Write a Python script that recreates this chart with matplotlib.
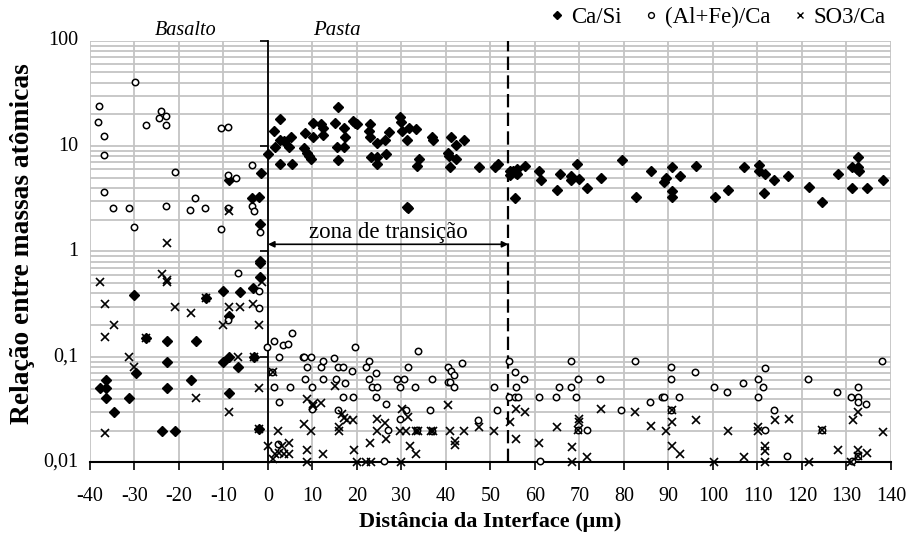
import matplotlib
matplotlib.use("Agg")
import matplotlib.pyplot as plt
from matplotlib.lines import Line2D
from matplotlib.ticker import LogLocator, NullFormatter

# ---------------- data ----------------
ca_si_x = [-1.8, -1.8, -1.8, -3.4, -6.4, -10.2, -14.0, -30.0, -27.4, -22.7, -16.2, -8.7, -22.7, -10.2,
           -8.7, -6.8, -29.6, -36.5, -37.8, -36.5, -36.5, -31.2, -34.7, -22.7, -17.3, -8.7, -23.8, -20.8,
           -3.1, -2.0, -8.7, -1.6, -3.5, -2.0, -1.8,
           0.07, 1.57, 1.35, 2.8, 2.8, 3.6, 4.8, 5.1, 2.8, 5.5, 8.0, 8.4, 8.7, 9.3, 9.6, 10.2, 10.2, 12.0,
           12.4, 12.4, 15.1, 15.8, 17.0, 17.4, 15.5, 17.0, 15.8, 19.1, 19.9, 19.5, 22.9, 22.6, 22.9, 24.4,
           27.1, 26.2, 23.1, 24.4, 24.4, 26.6, 29.6, 29.8, 30.2, 31.7, 33.2, 31.3, 31.3, 31.5, 34.0, 33.5,
           36.8, 37.1, 40.4, 40.7, 41.2, 42.2, 44.1, 42.2, 40.8, 47.5, 51.0, 51.7, 54.3, 54.3, 55.0, 55.8,
           55.9, 55.9, 57.8, 55.6, 61.0, 61.4, 64.9, 65.6, 68.1, 68.1, 69.5, 70.0, 71.8, 74.9, 79.5, 82.6,
           86.1, 89.1, 89.4, 90.7, 90.7, 90.7, 92.6, 96.1, 100.4, 103.4, 106.9, 110.3, 110.3, 111.7, 111.4,
           113.8, 116.9, 121.5, 124.5, 128.1, 131.2, 132.6, 132.6, 132.9, 132.3, 131.2, 134.6, 138.2]
ca_si_y = [0.81, 0.77, 0.57, 0.45, 0.41, 0.42, 0.36, 0.39, 0.15, 0.14, 0.14, 0.245, 0.089, 0.089,
           0.1, 0.080, 0.071, 0.061, 0.051, 0.051, 0.041, 0.041, 0.030, 0.051, 0.061, 0.045, 0.020, 0.020,
           0.1, 0.0206, 4.8, 5.6, 3.2, 3.3, 1.84,
           8.5, 9.9, 13.9, 18.0, 11.5, 11.1, 9.9, 12.3, 6.7, 6.7, 9.5, 13.3, 8.6, 8.1, 7.5, 16.7, 12.3, 16.1,
           14.7, 12.8, 16.7, 23.4, 14.9, 12.3, 9.8, 9.9, 7.3, 17.3, 16.1, 16.6, 16.1, 13.9, 12.3, 10.6,
           13.5, 11.5, 7.9, 7.9, 6.7, 8.5, 18.7, 17.1, 13.9, 15.0, 14.5, 11.5, 2.65, 2.6, 7.6, 6.5,
           12.3, 11.4, 8.6, 8.1, 12.3, 10.2, 11.5, 7.6, 6.3, 6.3, 6.3, 6.7, 5.3, 5.8, 5.8, 5.6,
           6.0, 5.4, 6.5, 3.2, 5.8, 4.8, 3.84, 5.4, 5.2, 4.8, 6.8, 4.85, 4.0, 5.0, 7.3, 3.3,
           5.8, 4.6, 5.0, 6.3, 3.76, 3.3, 5.2, 6.5, 3.3, 3.84, 6.3, 6.6, 5.8, 5.4, 3.55,
           4.8, 5.2, 4.1, 2.96, 5.4, 6.3, 7.9, 6.3, 5.8, 6.0, 4.0, 4.0, 4.8]

alfe_ca_x = [-37.9, -38.3, -36.8, -36.8, -36.8, -34.8, -31.3, -29.8, -30.2, -27.4, -24.1, -24.4, -22.9,
             -22.9, -22.9, -21.0, -17.5, -16.4, -14.1, -10.5, -9.0, -9.0, -7.1, -9.0, -10.5, -3.6, -3.6,
             -3.2, -1.8, -6.7, -2.0, -2.0, -8.9,
             -0.15, 1.4, 2.5, 3.3, 4.5, 5.3, 1.0, 1.4, 2.5, 4.9, 2.3, 7.9, 8.1, 9.6, 8.8, 8.4, 9.9, 9.9,
             11.8, 12.3, 12.3, 14.9, 15.7, 16.9, 15.2, 17.2, 15.8, 16.8, 19.2, 18.8, 19.5, 22.1, 22.6,
             22.6, 23.3, 24.5, 24.2, 24.2, 26.5, 26.9, 26.1, 29.1, 30.6, 29.6, 29.6, 31.1, 31.5, 33.0,
             33.8, 33.5, 36.8, 36.5, 36.8, 40.4, 41.1, 41.9, 40.5, 41.0, 41.9, 43.7, 47.3, 50.7, 51.5,
             54.2, 54.2, 55.4, 56.1, 55.4, 55.8, 57.6, 60.8, 64.7, 65.5, 68.1, 68.1, 69.7, 69.3, 69.7,
             71.7, 61.1, 74.7, 79.3, 82.4, 85.9, 88.6, 89.1, 90.5, 90.5, 92.4, 90.5, 95.9, 100.2, 103.2,
             106.8, 110.2, 111.7, 111.3, 110.2, 113.7, 111.8, 116.7, 121.4, 124.4, 127.9, 132.5, 131.1,
             132.7, 132.6, 134.4, 137.9, 132.6, 131.2]
alfe_ca_y = [23.8, 17.1, 12.6, 8.3, 3.65, 2.6, 2.6, 40.4, 1.69, 15.8, 21.4, 18.3, 19.1,
             15.8, 2.69, 5.7, 2.5, 3.25, 2.6, 14.7, 15.2, 5.3, 4.93, 2.6, 1.63, 6.6, 2.7,
             2.4, 1.53, 0.62, 0.42, 0.29, 0.224,
             0.123, 0.142, 0.1, 0.129, 0.133, 0.167, 0.072, 0.052, 0.037, 0.052, 0.0149, 0.1, 0.1, 0.1,
             0.081, 0.062, 0.052, 0.032, 0.081, 0.091, 0.062, 0.098, 0.081, 0.081, 0.062, 0.056, 0.031,
             0.0415, 0.0415, 0.073, 0.123, 0.081, 0.091, 0.062, 0.052, 0.052, 0.070, 0.0415, 0.0356,
             0.0203, 0.0103, 0.062, 0.062, 0.052, 0.0256, 0.031, 0.081, 0.052, 0.114, 0.0203, 0.062,
             0.031, 0.020, 0.081, 0.073, 0.0675, 0.058, 0.058, 0.052, 0.087, 0.0254, 0.052, 0.031,
             0.091, 0.0415, 0.0415, 0.0415, 0.072, 0.052, 0.062, 0.0415, 0.0415, 0.052, 0.052, 0.091,
             0.062, 0.0415, 0.0203, 0.0203, 0.0103, 0.062, 0.031, 0.091, 0.037, 0.0415, 0.0415, 0.081,
             0.062, 0.0415, 0.031, 0.072, 0.052, 0.0466, 0.056, 0.062, 0.078, 0.052, 0.0415, 0.031,
             0.0203, 0.0115, 0.062, 0.0203, 0.0466, 0.052, 0.0415, 0.0415, 0.037, 0.0356, 0.091,
             0.0115, 0.0103]

so3_ca_x = [-8.7, -22.7, -37.8, -23.8, -22.7, -22.7, -36.7, -34.7, -36.7, -20.8, -17.3, -14.0, -27.4,
            -8.7, -6.4, -3.4, -1.4, -10.2, -2.0, -31.2, -30.0, -6.8, -3.1, -16.2, -8.7, -2.0, -36.7, -2.0,
            0.07, 1.2, 2.3, 1.2, 1.6, 2.5, 3.1, 3.6, 4.8, 4.8, 8.7, 8.1, 9.6, 8.7, 8.7, 10.1, 10.1, 12.0,
            12.4, 15.0, 15.9, 15.9, 16.7, 17.0, 17.8, 19.1, 19.3, 19.9, 22.1, 23.1, 22.9, 24.4, 24.4, 26.2,
            26.6, 29.8, 30.2, 31.4, 29.6, 31.1, 31.8, 33.2, 33.2, 33.8, 36.6, 37.1, 40.5, 40.8, 42.0, 42.0,
            44.1, 47.5, 50.9, 54.4, 55.8, 57.8, 55.8, 60.8, 64.9, 68.3, 68.3, 69.8, 69.8, 69.7, 71.8, 74.9,
            82.5, 86.0, 89.4, 90.7, 90.7, 90.7, 92.6, 96.1, 100.2, 103.4, 106.9, 110.2, 110.2, 111.8, 111.8,
            111.8, 114.0, 117.0, 121.5, 124.4, 128.1, 131.4, 132.7, 132.7, 132.6, 134.6, 131.1, 138.2]
so3_ca_y = [2.4, 1.2, 0.51, 0.61, 0.51, 0.54, 0.32, 0.20, 0.153, 0.30, 0.258, 0.36, 0.15,
            0.30, 0.30, 0.32, 0.51, 0.20, 0.20, 0.1, 0.08, 0.1, 0.1, 0.041, 0.030, 0.051, 0.019, 0.0206,
            0.0143, 0.0107, 0.020, 0.072, 0.0121, 0.0123, 0.0143, 0.0121, 0.0152, 0.0121, 0.040, 0.023,
            0.020, 0.013, 0.0101, 0.034, 0.036, 0.0364, 0.0121, 0.053, 0.0214, 0.020, 0.029, 0.0264, 0.025,
            0.025, 0.013, 0.0101, 0.0101, 0.0101, 0.0152, 0.026, 0.020, 0.0238, 0.0166, 0.0101, 0.032,
            0.027, 0.020, 0.020, 0.0143, 0.0121, 0.020, 0.020, 0.020, 0.020, 0.0348, 0.020, 0.016, 0.0145,
            0.020, 0.0214, 0.020, 0.024, 0.032, 0.030, 0.0166, 0.0152, 0.0214, 0.0141, 0.0101, 0.026,
            0.024, 0.0203, 0.0112, 0.032, 0.030, 0.0221, 0.020, 0.031, 0.024, 0.0143, 0.0121, 0.025,
            0.0101, 0.020, 0.0112, 0.0214, 0.020, 0.0143, 0.0128, 0.0101, 0.025, 0.026, 0.0101, 0.0203,
            0.0131, 0.025, 0.030, 0.0131, 0.0115, 0.0122, 0.0101, 0.0193]

x_ticks = list(range(-40, 141, 10))
y_ticks = [0.01, 0.1, 1, 10, 100]
y_tick_labels = ["0,01", "0,1", "1", "10", "100"]
series_names = ["Ca/Si", "(Al+Fe)/Ca", "SO3/Ca"]
interface_x = 0
transition_end_x = 54

# ---------------- figure ----------------
plt.rcParams['font.family'] = ['Liberation Serif', 'DejaVu Serif']
fig = plt.figure(figsize=(9.1, 5.41), dpi=100)
ax = fig.add_axes([0.0989, 0.1455, 0.8802, 0.7793])

ax.set_yscale('log')
ax.set_xlim(-40, 140)
ax.set_ylim(0.01, 100)

grid_c = '#c4c4c4'
ax.set_xticks(x_ticks)
ax.set_xticklabels([str(t) for t in x_ticks], fontsize=14.5)
ax.yaxis.set_major_locator(LogLocator(base=10, numticks=10))
ax.yaxis.set_minor_locator(LogLocator(base=10, subs=range(2, 10), numticks=20))
ax.yaxis.set_minor_formatter(NullFormatter())
ax.grid(True, which='major', axis='both', color=grid_c, lw=1.3, zorder=0)
ax.grid(True, which='minor', axis='y', color=grid_c, lw=1.3, zorder=0)
ax.set_axisbelow(True)

for s in ['top', 'right']:
    ax.spines[s].set_visible(False)
ax.spines['bottom'].set_color('black')
ax.spines['bottom'].set_linewidth(1.5)
ax.spines['left'].set_position(('data', interface_x))
ax.spines['left'].set_color('black')
ax.spines['left'].set_linewidth(1.3)
ax.tick_params(axis='x', which='major', direction='out', length=6, width=1.2, pad=12)
ax.tick_params(axis='y', which='major', direction='out', length=6, width=1.2, labelleft=False)
ax.tick_params(axis='y', which='minor', length=0)

for v, lab in zip(y_ticks, y_tick_labels):
    ax.text(-0.014, v, lab, transform=ax.get_yaxis_transform(), ha='right', va='center', fontsize=14.5)

# dashed line at end of transition zone
ax.axvline(transition_end_x, color='black', lw=1.6, linestyle=(0, (6, 2.4)), zorder=2)

# data
ax.plot(ca_si_x, ca_si_y, linestyle='none', marker='D', markersize=5.2, color='black', clip_on=False, zorder=3)
ax.plot(alfe_ca_x, alfe_ca_y, linestyle='none', marker='o', markersize=4.6, markerfacecolor='white',
        markeredgecolor='black', markeredgewidth=1.1, clip_on=False, zorder=3)
ax.plot(so3_ca_x, so3_ca_y, linestyle='none', marker='x', markersize=5.5, color='black',
        markeredgewidth=1.2, clip_on=False, zorder=4)

# transition zone arrow
ax.annotate('', xy=(interface_x, 1.17), xytext=(transition_end_x, 1.17),
            arrowprops=dict(arrowstyle='<|-|>', color='black', lw=1.2, mutation_scale=9,
                            shrinkA=0, shrinkB=0), zorder=5)
ax.text((interface_x + transition_end_x) / 2, 1.5, 'zona de transição', ha='center', va='center',
        fontsize=16.5)

# region labels
ax.text(-18.6, 1.025, 'Basalto', transform=ax.get_xaxis_transform(), ha='center', va='center',
        fontsize=14.5, style='italic')
ax.text(15.5, 1.025, 'Pasta', transform=ax.get_xaxis_transform(), ha='center', va='center',
        fontsize=15, style='italic')

ax.set_xlabel('Distância da Interface (μm)', fontsize=16, fontweight='bold', labelpad=4)
fig.text(0.025, 0.549, 'Relação entre massas atômicas', rotation=90, ha='center', va='center',
         fontsize=19.8, fontweight='bold')

handles = [
    Line2D([], [], linestyle='none', marker='D', markersize=4, color='black'),
    Line2D([], [], linestyle='none', marker='o', markersize=4.2, markerfacecolor='white',
           markeredgecolor='black', markeredgewidth=1),
    Line2D([], [], linestyle='none', marker='x', markersize=4.2, color='black', markeredgewidth=1),
]
fig.legend(handles, series_names, ncol=3, loc='center right', bbox_to_anchor=(0.9735, 1 - 17 / 541),
           frameon=False, fontsize=16.5, handlelength=0.6, handletextpad=0.3, columnspacing=1.0,
           borderaxespad=0, borderpad=0)

fig.savefig('out.png', dpi=100)
